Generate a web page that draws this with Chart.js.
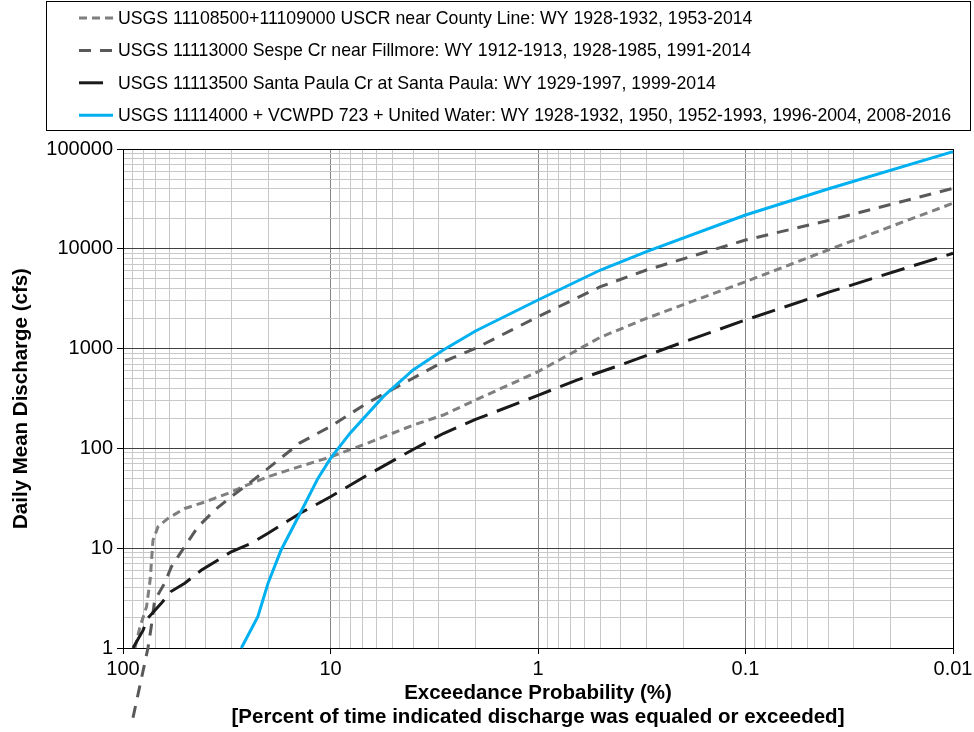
<!DOCTYPE html>
<html>
<head>
<meta charset="utf-8">
<script src="https://cdn.jsdelivr.net/npm/chart.js@4.4.1/dist/chart.umd.min.js"></script>
<style>
  body { margin: 0; background: #fff; }
  canvas { display: block; }
</style>
</head>
<body>
<canvas id="fdc" width="974" height="732"></canvas>
<script>
// exceedance probability (%) and daily mean discharge (cfs)
const uscrP = [87.5, 83, 77, 74, 71.7, 67.8, 60.7, 50.4, 40.4, 31.2, 24.1, 20, 14, 10, 6.7, 4, 2.86, 2, 1, 0.5, 0.3, 0.1, 0.04, 0.01];
const uscrQ = [1, 1.6, 2.6, 4.8, 12, 16.4, 19.9, 25, 29, 35.5, 44.7, 52, 66, 82, 112, 171, 216, 305, 587, 1300, 2010, 4680, 9730, 28600];

const sespeP = [89.5, 75.8, 73.1, 70.4, 63, 58.5, 50.4, 43.5, 36.1, 30.1, 24.1, 20, 14.1, 10, 6.7, 4.15, 2.86, 2, 1, 0.5, 0.3, 0.1, 0.039, 0.01];
const sespeQ = [0.2, 1, 1.63, 3.0, 4.45, 6.5, 10.4, 16.4, 24.1, 32.8, 46.4, 63, 113, 166, 283, 485, 739, 1007, 2090, 4170, 6130, 12250, 19440, 40400];

const paulaP = [89.5, 80.1, 75.8, 65.4, 58.5, 50.4, 42, 30.1, 24.1, 20, 14, 10, 6.7, 4, 2.86, 2, 1, 0.65, 0.4, 0.207, 0.1, 0.039, 0.01];
const paulaQ = [1, 1.5, 2.0, 2.8, 3.7, 4.45, 6.0, 9.2, 11.2, 14.1, 22.4, 32.8, 53.5, 97.5, 141, 195, 340, 484, 685, 1130, 1936, 3717, 9020];

const unitedP = [26.9, 22.4, 20, 17.3, 14, 11.5, 10, 8.05, 5.57, 4, 2.86, 2, 1, 0.5, 0.3, 0.1, 0.039, 0.01];
const unitedQ = [1, 2.06, 4.45, 9.6, 22.4, 50, 79.4, 142, 330, 611, 968, 1500, 3070, 6130, 9350, 21800, 40400, 94000];

const seriesNames = [
  'USGS 11108500+11109000 USCR near County Line: WY 1928-1932, 1953-2014',
  'USGS 11113000 Sespe Cr near Fillmore: WY 1912-1913, 1928-1985, 1991-2014',
  'USGS 11113500 Santa Paula Cr at Santa Paula: WY 1929-1997, 1999-2014',
  'USGS 11114000 + VCWPD 723 + United Water: WY 1928-1932, 1950, 1952-1993, 1996-2004, 2008-2016'
];

const xMajorTicks = [100, 10, 1, 0.1, 0.01];
const yMajorTicks = [1, 10, 100, 1000, 10000, 100000];

const FONT = '"Liberation Sans", Arial, sans-serif';

function pts(xs, ys) {
  return xs.map((x, i) => ({ x: x, y: ys[i] }));
}

// decade lines plus 2..9 minor lines in between
function logTicks(majors) {
  const sorted = majors.slice().sort((a, b) => a - b);
  const out = [];
  for (let i = 0; i < sorted.length; i++) {
    out.push({ value: sorted[i], major: true });
    if (i < sorted.length - 1) {
      for (let k = 2; k <= 9; k++) out.push({ value: sorted[i] * k, major: false });
    }
  }
  return out;
}

function gridColor(hMajor, scaleMax) {
  return (ctx) => {
    if (!ctx.tick) return '#c8c8c8';
    if (Math.abs(ctx.tick.value - scaleMax) < 1e-9) return '#000000';
    return ctx.tick.major ? hMajor : '#c8c8c8';
  };
}

// boxed legend above the plot, one series per row
const legendBox = {
  id: 'legendBox',
  afterDraw(chart) {
    const ctx = chart.ctx;
    ctx.save();
    ctx.strokeStyle = '#000';
    ctx.lineWidth = 1;
    ctx.strokeRect(46.5, 1.5, 924, 129);
    ctx.font = '17.7px ' + FONT;
    ctx.textBaseline = 'middle';
    ctx.fillStyle = '#000';
    chart.data.datasets.forEach((ds, i) => {
      const y = 18 + i * 32.4;
      ctx.beginPath();
      ctx.setLineDash(ds.borderDash || []);
      ctx.strokeStyle = ds.borderColor;
      ctx.lineWidth = ds.borderWidth;
      ctx.moveTo(79, y);
      ctx.lineTo(113, y);
      ctx.stroke();
      ctx.setLineDash([]);
      ctx.fillText(ds.label, 118, y + 1);
    });
    ctx.restore();
  }
};

const lineDefaults = { borderWidth: 3, pointRadius: 0, tension: 0, fill: false, clip: false };

new Chart(document.getElementById('fdc'), {
  type: 'line',
  data: {
    datasets: [
      Object.assign({ label: seriesNames[0], data: pts(uscrP, uscrQ), borderColor: '#7f7f7f', borderDash: [8, 5], order: 3 }, lineDefaults),
      Object.assign({ label: seriesNames[1], data: pts(sespeP, sespeQ), borderColor: '#595959', borderDash: [12, 9], order: 2 }, lineDefaults),
      Object.assign({ label: seriesNames[2], data: pts(paulaP, paulaQ), borderColor: '#1a1a1a', borderDash: [24, 10], order: 1 }, lineDefaults),
      Object.assign({ label: seriesNames[3], data: pts(unitedP, unitedQ), borderColor: '#00b0f0', order: 0 }, lineDefaults)
    ]
  },
  options: {
    responsive: false,
    animation: false,
    layout: { padding: { top: 149, right: 21, left: 6, bottom: 0 } },
    plugins: { legend: { display: false }, tooltip: { enabled: false } },
    scales: {
      x: {
        type: 'logarithmic',
        reverse: true,
        min: 0.01,
        max: 100,
        afterBuildTicks: (scale) => { scale.ticks = logTicks(xMajorTicks); },
        afterFit: (scale) => { scale.height = 84; },
        ticks: {
          autoSkip: false,
          maxRotation: 0,
          padding: 3,
          color: '#000',
          font: { family: FONT, size: 20 },
          callback: (v, i, ticks) => ticks[i].major ? String(v) : ''
        },
        grid: {
          color: gridColor('#858585', 0.01),
          lineWidth: 1,
          tickLength: 6,
          tickColor: (ctx) => (ctx.tick && ctx.tick.major) ? '#000' : 'transparent'
        },
        border: { display: true, color: '#000', width: 1 },
        title: {
          display: true,
          text: ['Exceedance Probability (%)', '[Percent of time indicated discharge was equaled or exceeded]'],
          color: '#000',
          font: { family: FONT, size: 20.5, weight: 'bold', lineHeight: 1.2 },
          padding: { top: 0, bottom: 2 }
        }
      },
      y: {
        type: 'logarithmic',
        min: 1,
        max: 100000,
        afterBuildTicks: (scale) => { scale.ticks = logTicks(yMajorTicks); },
        afterFit: (scale) => { scale.width = 117; },
        ticks: {
          autoSkip: false,
          padding: 4,
          color: '#000',
          font: { family: FONT, size: 20 },
          callback: (v, i, ticks) => ticks[i].major ? String(v) : ''
        },
        grid: {
          color: gridColor('#404040', 100000),
          lineWidth: 1,
          tickLength: 6,
          tickColor: (ctx) => (ctx.tick && ctx.tick.major) ? '#000' : 'transparent'
        },
        border: { display: true, color: '#000', width: 1 },
        title: {
          display: true,
          text: 'Daily Mean Discharge (cfs)',
          color: '#000',
          font: { family: FONT, size: 20.5, weight: 'bold' },
          padding: { top: 3, bottom: 0 }
        }
      }
    }
  },
  plugins: [legendBox]
});
</script>
</body>
</html>
